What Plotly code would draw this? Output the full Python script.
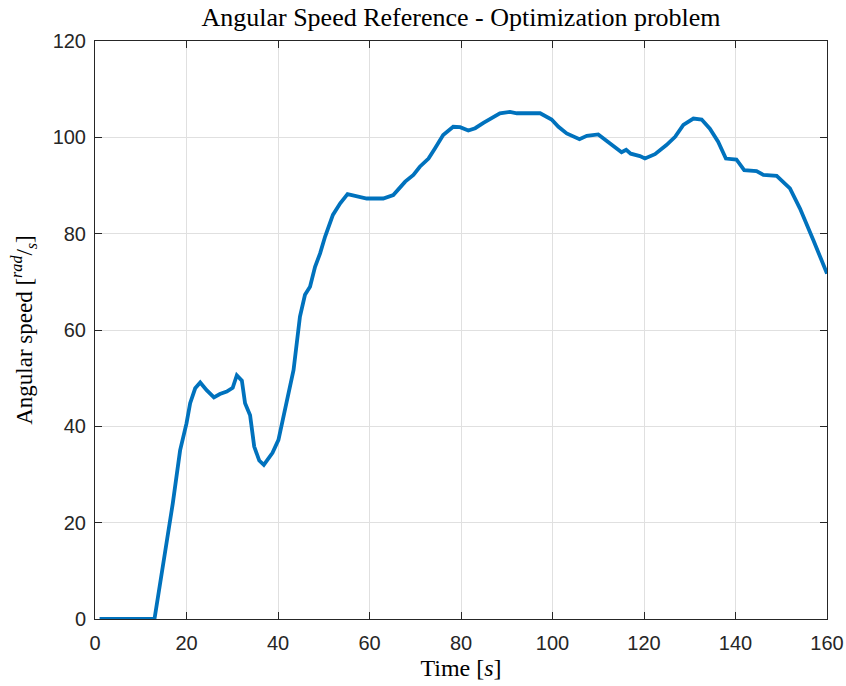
import plotly.graph_objects as go

# Angular speed reference profile (time in s, speed in rad/s)
time_s = [1.0, 13.0, 15.0, 17.0, 18.6, 20.0, 20.8, 21.9, 23.0, 24.4, 26.0, 27.3, 28.8,
          30.1, 31.0, 32.1, 32.8, 33.9, 34.8, 35.9, 36.9, 37.9, 38.8, 40.1, 41.9,
          43.4, 44.8, 45.9, 47.0, 48.1, 49.2, 50.3, 52.0, 53.6, 55.2, 57.2, 59.4,
          63.0, 65.2, 67.8, 69.6, 71.0, 72.9, 74.3, 76.1, 78.3, 79.8, 81.6, 83.1,
          84.9, 86.3, 88.5, 90.7, 92.2, 97.3, 99.8, 101.3, 103.1, 105.9, 107.5,
          110.0, 112.6, 115.1, 116.1, 117.1, 119.1, 120.2, 122.4, 124.9, 126.8,
          128.6, 130.8, 132.6, 134.4, 136.2, 137.9, 140.2, 141.9, 144.6, 146.1,
          149.0, 151.9, 154.1, 157.0, 158.8, 160.0]
speed = [0.0, 0.0, 12.0, 24.0, 35.0, 40.6, 44.8, 47.9, 49.1, 47.5, 46.0, 46.7, 47.2,
         48.0, 50.6, 49.5, 44.8, 42.3, 35.8, 32.9, 32.0, 33.3, 34.5, 37.2, 44.8,
         51.7, 62.8, 67.3, 69.0, 73.1, 75.9, 79.4, 83.9, 86.3, 88.2, 87.8, 87.3,
         87.3, 88.0, 90.8, 92.2, 93.9, 95.6, 97.7, 100.5, 102.2, 102.1, 101.4, 101.9,
         103.0, 103.7, 105.0, 105.3, 105.0, 105.0, 103.7, 102.2, 100.8, 99.6, 100.3,
         100.6, 98.8, 96.9, 97.4, 96.6, 96.1, 95.6, 96.5, 98.4, 100.1,
         102.6, 103.9, 103.7, 101.8, 99.1, 95.6, 95.4, 93.2, 93.0, 92.2,
         92.0, 89.4, 85.2, 78.7, 74.5, 71.7]

x_ticks = [0, 20, 40, 60, 80, 100, 120, 140, 160]
y_ticks = [0, 20, 40, 60, 80, 100, 120]

serif = "Liberation Serif, DejaVu Serif, serif"
sans = "Liberation Sans, Arial, sans-serif"
axis_color = "#262626"
grid_color = "#e0e0e0"

fig = go.Figure()
fig.add_trace(go.Scatter(
    x=time_s, y=speed, mode="lines",
    line=dict(color="#0072BD", width=3.8),
    showlegend=False,
))

axis_common = dict(
    showline=True, linecolor=axis_color, linewidth=1, mirror="ticks",
    ticks="inside", ticklen=7, tickcolor=axis_color, tickwidth=1,
    showgrid=True, gridcolor=grid_color, gridwidth=1,
    zeroline=False,
    tickfont=dict(family=sans, size=20, color=axis_color),
)

fig.update_xaxes(range=[0, 160], tickvals=x_ticks, ticklabelstandoff=6,
                 title=dict(text="Time [<i>s</i>]", font=dict(family=serif, size=24, color="#000000"),
                            standoff=6),
                 **axis_common)
fig.update_yaxes(range=[0, 120], tickvals=y_ticks, ticklabelstandoff=4,
                 title=dict(text="Angular speed [<sup><i>rad</i></sup>/<sub><i>s</i></sub>]",
                            font=dict(family=serif, size=23, color="#000000"), standoff=13),
                 **axis_common)

fig.update_layout(
    width=846, height=686,
    margin=dict(l=95, r=19, t=41, b=67, autoexpand=False),
    paper_bgcolor="white", plot_bgcolor="white",
    title=dict(text="Angular Speed Reference - Optimization problem",
               font=dict(family=serif, size=26, color="#000000"),
               x=0.5, xanchor="center", xref="paper", y=0.975, yanchor="middle"),
)

fig.write_html("out.html")
